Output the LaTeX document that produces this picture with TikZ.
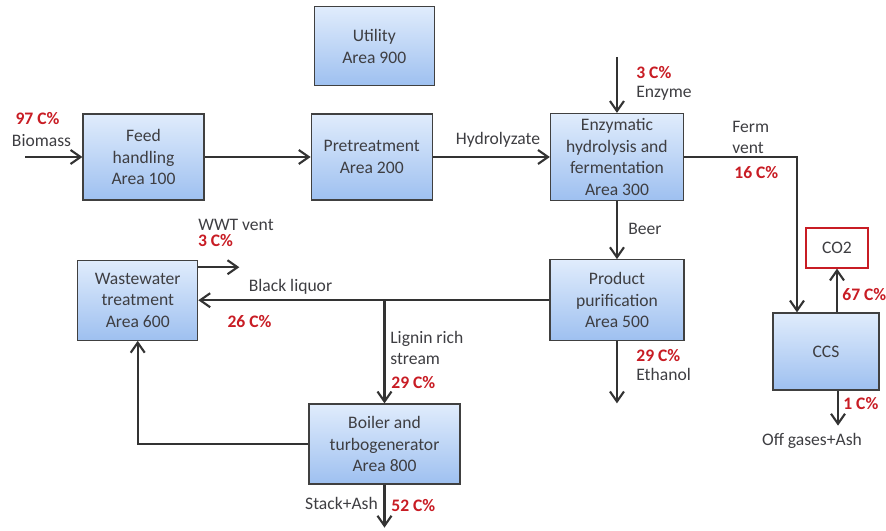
\documentclass[tikz,border=0pt]{standalone}
\usepackage{fontspec}
\setmainfont{Carlito}
\usepackage{tikz}
\usetikzlibrary{positioning, arrows.meta, calc}
\definecolor{boxtop}{RGB}{224,236,252}
\definecolor{boxbot}{RGB}{158,192,240}
\definecolor{boxedge}{RGB}{64,64,64}
\definecolor{txtgrey}{RGB}{62,62,66}
\definecolor{carbred}{RGB}{200,28,36}
\tikzstyle{block} = [rectangle, draw=boxedge, line width=0.7pt, top color=boxtop,
                     bottom color=boxbot, align=center, text=txtgrey, inner sep=1pt]
\tikzstyle{arrow} = [-{Straight Barb[length=2mm, width=2.8mm]}, line width=1.2pt, draw=black!80]

\begin{document}
\begin{tikzpicture}[x=0.2mm, y=-0.2mm, font=\fontsize{10}{12.2}\selectfont,
  lbl/.style={text=txtgrey, align=left, inner sep=0pt},
  pct/.style={text=carbred, font=\fontsize{10}{12.2}\selectfont\bfseries, inner sep=0pt},
  prod/.style={rectangle, draw=carbred, fill=white, line width=0.7pt, text=txtgrey,
               minimum width=12.4mm, minimum height=8mm}]
\useasboundingbox (0,0) rectangle (886,531);
% process areas
\node[block, minimum width=24.2mm, minimum height=17.2mm] (feed) at (143.5,157) {Feed\\handling\\Area 100};
\node[block, minimum width=24.2mm, minimum height=17.2mm, right=21.2mm of feed] (pre) {Pretreatment\\Area 200};
\node[block, minimum width=26.6mm, minimum height=17.4mm, right=23.4mm of pre] (enz) {Enzymatic\\hydrolysis and\\fermentation\\Area 300};
\node[block, minimum width=24mm, minimum height=15.8mm, above=5.4mm of pre, xshift=0.5mm] (util) {Utility\\Area 900};
\node[block, minimum width=26.8mm, minimum height=16.2mm, below=11.6mm of enz] (pur) {Product\\purification\\Area 500};
\node[block, minimum width=24mm, minimum height=16mm, left=70.2mm of pur] (wwt) {Wastewater\\treatment\\Area 600};
\node[block, minimum width=30.2mm, minimum height=16mm] (boil) at (384.5,444) {Boiler and\\turbogenerator\\Area 800};
\node[block, minimum width=21.2mm, minimum height=15.4mm] (ccs) at (826,351.5) {CCS};
\node[prod] (co2) at (837,248) {CO2};
% free stream ends
\coordinate (bioin) at (25,157);
\coordinate (enzin) at ([yshift=11.2mm]enz.north);
\coordinate (ethout) at ([yshift=-12.4mm]pur.south);
\coordinate (stack) at ([yshift=-8.6mm]boil.south);
\coordinate (wwtvent) at ([xshift=8.2mm, yshift=6.6mm]wwt.east);
\coordinate (ccsout) at ([xshift=2.4mm]ccs.south);
\coordinate (offgas) at ([yshift=-7mm]ccsout);
\coordinate (lig) at (boil.north |- pur.west);
% streams
\draw[arrow] (bioin)--(feed); \draw[arrow] (feed)--(pre); \draw[arrow] (pre)--(enz);
\draw[arrow] (enzin)--(enz.north); \draw[arrow] (enz)--(pur); \draw[arrow] (pur.south)--(ethout);
\draw[arrow] (enz.east) -| ([xshift=-5.8mm]ccs.north);
\draw[arrow] (ccs.north -| co2)--(co2); \draw[arrow] (ccsout)--(offgas);
\draw[arrow] (pur.west)--(pur.west -| wwt.east);
\draw[arrow] (lig)--(boil.north); \draw[arrow] (boil.south)--(stack);
\draw[arrow] (boil.west) -| (wwt.south);
\draw[arrow] ([yshift=6.6mm]wwt.east)--(wwtvent);
% labels
\node[pct] (pbio) at (37.5,119) {97 C\%};
\node[lbl] (tbio) at (41.5,140.5) {Biomass};
\node[lbl] (thyd) at (498,140) {Hydrolyzate};
\node[pct, anchor=west] (penz) at (636,73) {3 C\%};
\node[lbl, anchor=west] (tenz) at (636,93) {Enzyme};
\node[lbl, anchor=west] (tferm) at (732,137.5) {Ferm\\vent};
\node[pct, anchor=west] (pferm) at (734,173) {16 C\%};
\node[lbl, anchor=west] (tbeer) at (628,229) {Beer};
\node[lbl] (twwt) at (236,225) {WWT vent};
\node[pct] (pwwt) at (215.5,241) {3 C\%};
\node[lbl] (tblk) at (290.5,287) {Black liquor};
\node[pct] (pblk) at (249.5,322) {26 C\%};
\node[lbl, anchor=west] (tlig) at (390,348) {Lignin rich\\stream};
\node[pct, anchor=west] (plig) at (391,383) {29 C\%};
\node[lbl] (tstack) at (341.5,503) {Stack+Ash};
\node[pct, anchor=west] (pstack) at (391,506) {52 C\%};
\node[pct, anchor=west] (peth) at (636,356) {29 C\%};
\node[lbl, anchor=west] (teth) at (636,374) {Ethanol};
\node[pct, anchor=west] (pco2) at (842,295) {67 C\%};
\node[pct, anchor=west] (poff) at (843,404) {1 C\%};
\node[lbl] (toff) at (812,441) {Off gases+Ash};
\end{tikzpicture}
\end{document}
